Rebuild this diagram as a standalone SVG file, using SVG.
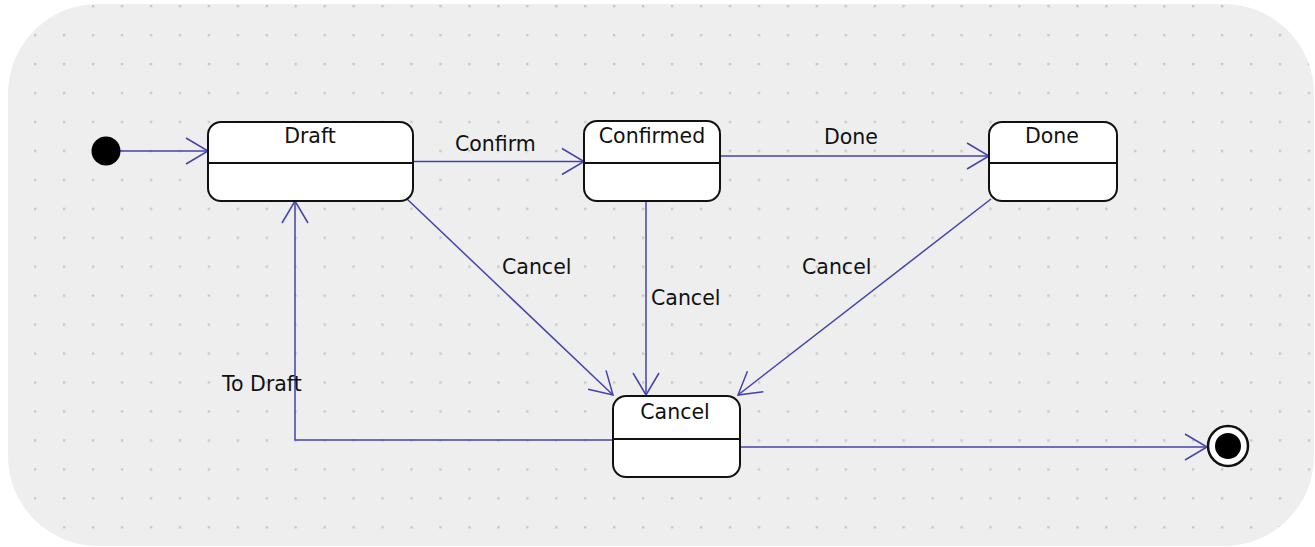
<svg xmlns="http://www.w3.org/2000/svg" width="1315" height="547" viewBox="0 0 1315 547">
<defs>
<pattern id="dots" patternUnits="userSpaceOnUse" x="34" y="5" width="28.95" height="28.95">
<rect x="0" y="0" width="2.4" height="2.4" fill="#c8c8c8"/>
</pattern>
<marker id="arr" markerUnits="userSpaceOnUse" viewBox="-25 -16 30 32" refX="0" refY="0" markerWidth="30" markerHeight="32" orient="auto" overflow="visible">
<path d="M-22,-13 L0,0 L-22,13" fill="none" stroke="#4343ad" stroke-width="1.5"/>
</marker>
<style>
.state{fill:#ffffff;stroke:#111;stroke-width:2}
.div{stroke:#111;stroke-width:2}
.t{font-family:"DejaVu Sans",sans-serif;font-size:20.5px;fill:#111;text-anchor:middle}
.lbl{font-family:"DejaVu Sans",sans-serif;font-size:20.5px;fill:#111}
.e{fill:none;stroke:#4343ad;stroke-width:1.5;marker-end:url(#arr)}
</style>
</defs>
<rect x="0" y="0" width="1315" height="547" fill="#ffffff"/>
<rect x="8" y="4" width="1306" height="542" rx="90" ry="90" fill="#eeeeee"/>
<rect x="8" y="4" width="1306" height="542" rx="90" ry="90" fill="url(#dots)"/>

<g id="connectors">
<line class="e" x1="120" y1="151" x2="208" y2="151"/>
<line class="e" x1="413" y1="161.5" x2="584" y2="161.5"/>
<line class="e" x1="720" y1="156" x2="989" y2="156"/>
<line class="e" x1="407" y1="199" x2="613" y2="395"/>
<line class="e" x1="646" y1="201" x2="646" y2="395"/>
<line class="e" x1="991" y1="199" x2="738" y2="395"/>
<polyline class="e" points="613,440 295,440 295,201"/>
<line class="e" x1="740" y1="447" x2="1207" y2="447"/>
<text class="lbl" x="455" y="151">Confirm</text>
<text class="lbl" x="824" y="144">Done</text>
<text class="lbl" x="502" y="274">Cancel</text>
<text class="lbl" x="651" y="305">Cancel</text>
<text class="lbl" x="802" y="274">Cancel</text>
<text class="lbl" x="222" y="391">To Draft</text>
</g>

<g id="initial">
<circle cx="106" cy="151" r="14.5" fill="#000"/>
</g>

<g id="draft">
<rect class="state" x="208" y="122" width="205" height="79" rx="13"/>
<line class="div" x1="208" y1="163" x2="413" y2="163"/>
<text class="t" x="310" y="143">Draft</text>
</g>

<g id="confirmed">
<rect class="state" x="584" y="121" width="136" height="80" rx="13"/>
<line class="div" x1="584" y1="163" x2="720" y2="163"/>
<text class="t" x="652" y="143">Confirmed</text>
</g>

<g id="done">
<rect class="state" x="989" y="122" width="128" height="79" rx="13"/>
<line class="div" x1="989" y1="163" x2="1117" y2="163"/>
<text class="t" x="1052" y="143">Done</text>
</g>

<g id="cancel">
<rect class="state" x="613" y="396" width="127" height="81" rx="13"/>
<line class="div" x1="613" y1="439" x2="740" y2="439"/>
<text class="t" x="675" y="419">Cancel</text>
</g>

<g id="final">
<circle cx="1228" cy="446" r="20" fill="#fff" stroke="#111" stroke-width="2.5"/>
<circle cx="1228" cy="446" r="13" fill="#000"/>
</g>
</svg>
